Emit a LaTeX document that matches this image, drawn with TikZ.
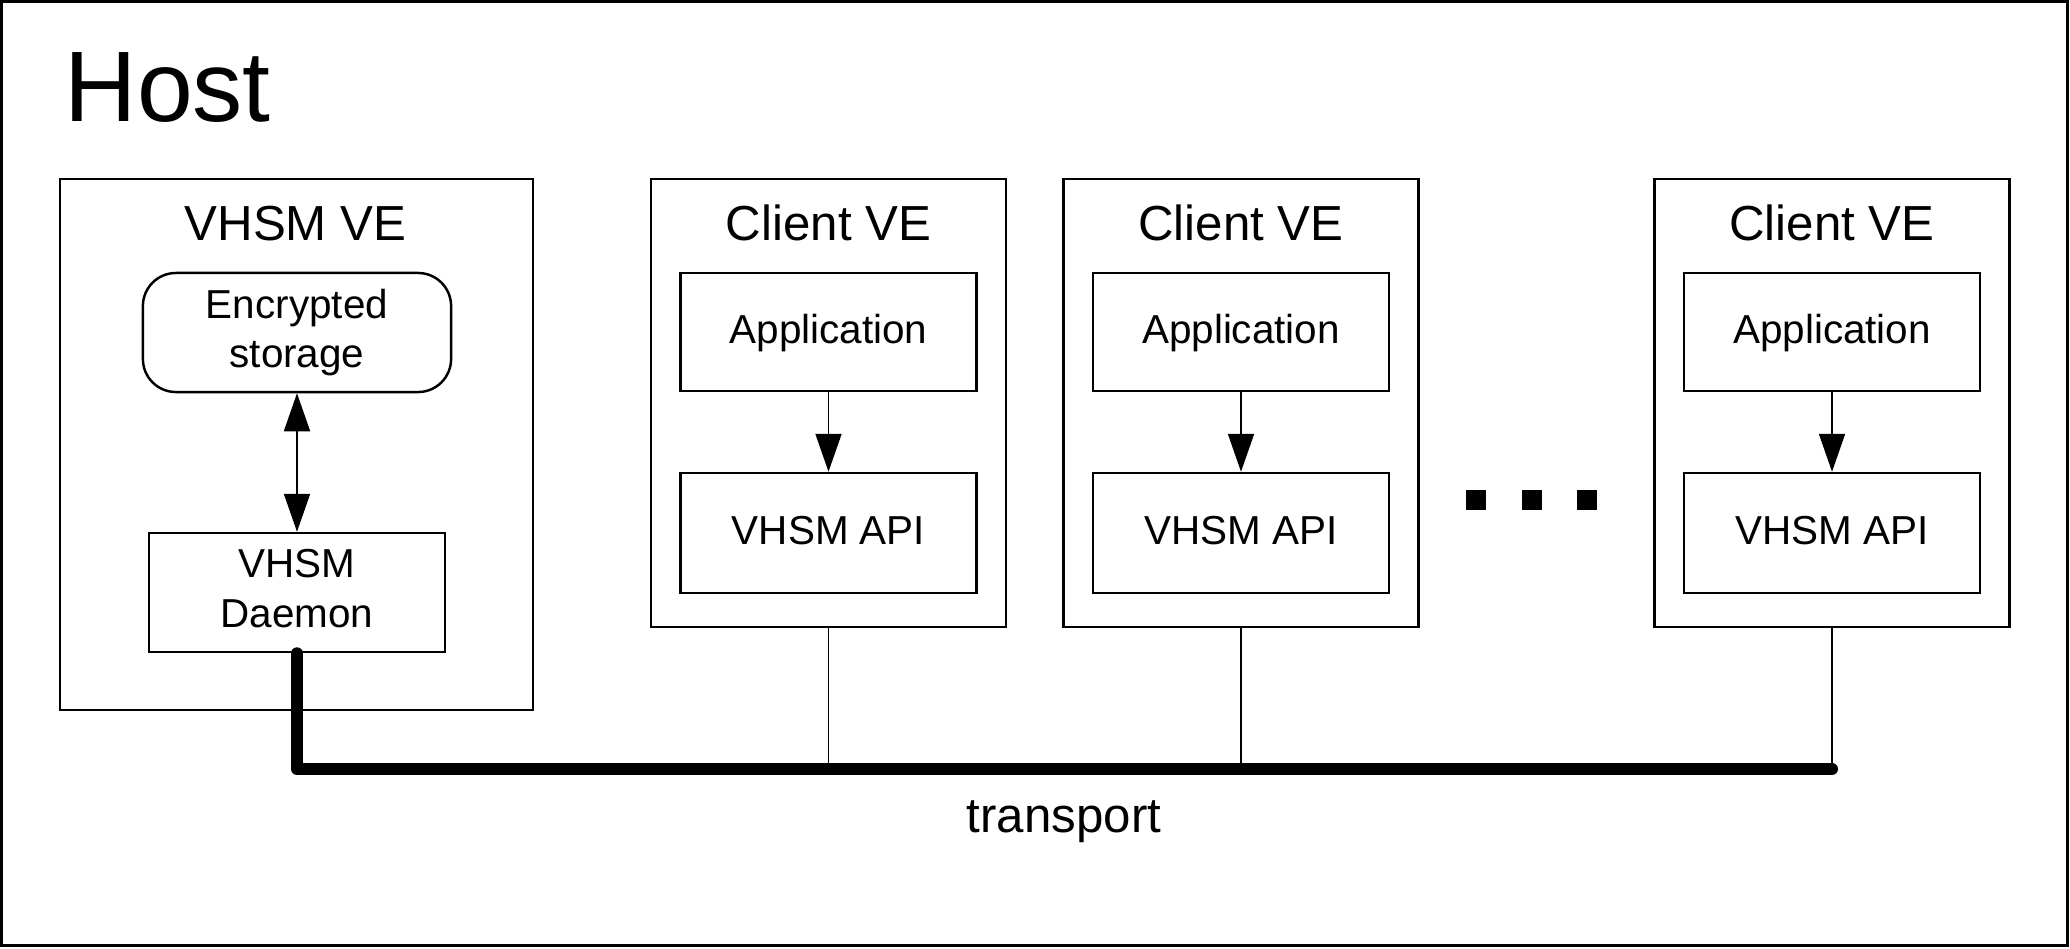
\documentclass[tikz,border=0pt]{standalone}
\usepackage{fontspec}
\setmainfont{Liberation Sans}
\usetikzlibrary{arrows.meta}
\begin{document}
\begin{tikzpicture}[x=0.01cm,y=-0.01cm,
  frame/.style={draw, line width=0.7pt, inner sep=0pt},
  ve/.style={frame, minimum height=4.48cm},
  title/.style={anchor=base, inner sep=0pt, font=\fontsize{14pt}{16pt}\selectfont},
  box/.style={frame, minimum width=2.96cm, align=center, font=\fontsize{11.5pt}{14pt}\selectfont},
  onebox/.style={box, text height=0.8em, text depth=0.13em},
  link/.style={line width=0.5pt},
  arr/.style={link, -{Triangle[length=10.8pt,width=7.4pt]}},
  darr/.style={link, {Triangle[length=10.8pt,width=7.4pt]}-{Triangle[length=10.8pt,width=7.4pt]}},
  bus/.style={line width=3.4pt, line cap=round, line join=round},
  dotsq/.style={fill=black, minimum size=0.2cm, inner sep=0pt}
]
\useasboundingbox (0,0) rectangle (2070,948);
\node[frame, minimum width=20.65cm, minimum height=9.43cm] (host) at (1034.5,473.5) {};
\node[anchor=base west, inner sep=0pt, font=\fontsize{28.5pt}{32pt}\selectfont] (hostT) at (64,121) {Host};

% VHSM VE
\node[frame, minimum width=4.73cm, minimum height=5.31cm] (vhsm) at (296.5,444.5) {};
\node[title] (vhsmT) at (295.5,240) {VHSM VE};
\node[box, rounded corners=0.33cm, minimum width=3.08cm, minimum height=1.19cm] (store) at (297,332.5) {\raisebox{-1.5pt}{Encrypted}\\\raisebox{-1.5pt}{storage}};
\node[box, minimum height=1.19cm] (daemon) at (297,592.5) {VHSM\\Daemon\vphantom{g}};
\draw[darr] (store) -- (daemon);

% Client VEs
\foreach \i/\cx in {1/828.5, 2/1241, 3/1832} {
  \node[ve, minimum width=3.55cm] (client\i) at (\cx,403) {};
  \node[title] (clientT\i) at (\cx,240) {Client VE};
  \node[onebox, minimum height=1.18cm] (app\i) at (\cx,332) {Application};
  \node[onebox, minimum height=1.20cm] (api\i) at (\cx,533) {VHSM API};
  \draw[arr] (app\i) -- (api\i);
}

% dots
\node[dotsq] (d1) at (1476,500) {};
\node[dotsq] (d2) at (1532,500) {};
\node[dotsq] (d3) at (1587,500) {};

% transport
\coordinate (busL) at (297,769);
\coordinate (busR) at (1832,769);
\draw[link] (client1.south) -- (client1.south |- busL);
\draw[link] (client2.south) -- (client2.south |- busL);
\draw[link] (client3.south) -- (busR);
\draw[bus] (daemon.south) -- (busL) -- (busR);
\node[title] (transport) at (1064,832) {transport};
\end{tikzpicture}
\end{document}
